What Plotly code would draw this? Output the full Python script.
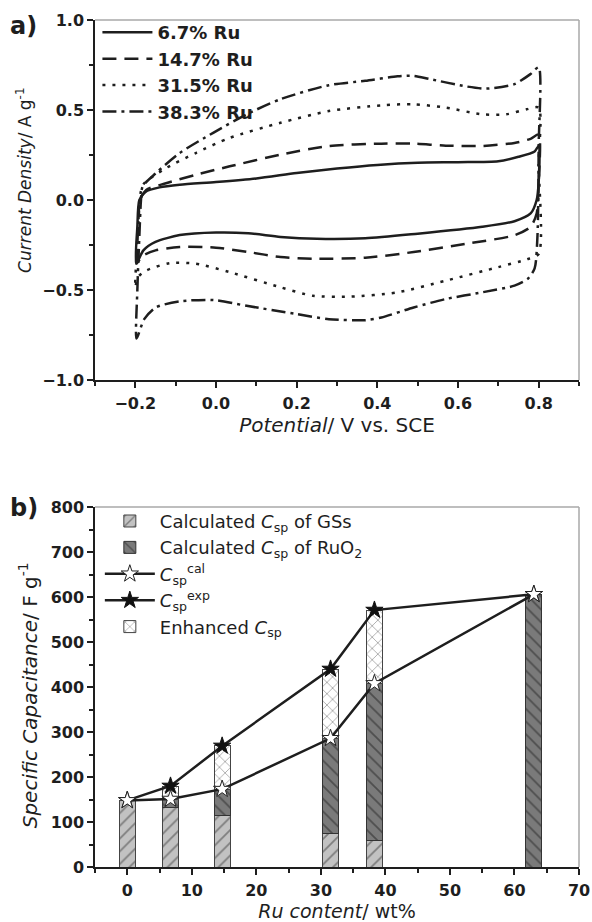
import plotly.graph_objects as go
from plotly.subplots import make_subplots

# ---------------- Panel a: cyclic voltammograms ----------------
pot_67 = [-0.198, -0.195, -0.19, -0.175, -0.14, -0.09, 0.0, 0.1, 0.2, 0.3, 0.4, 0.5, 0.6, 0.7, 0.75, 0.79, 0.8,
          0.8, 0.795, 0.78, 0.74, 0.66, 0.5, 0.37, 0.25, 0.16, 0.08, 0.0, -0.09, -0.15, -0.18, -0.198]
cur_67 = [-0.354, -0.15, 0.0, 0.045, 0.07, 0.085, 0.10, 0.12, 0.15, 0.175, 0.195, 0.207, 0.21, 0.215, 0.24, 0.27, 0.30,
          0.10, 0.0, -0.075, -0.118, -0.149, -0.187, -0.213, -0.216, -0.205, -0.185, -0.181, -0.195, -0.233, -0.28, -0.354]

pot_147 = [-0.197, -0.193, -0.188, -0.173, -0.124, -0.05, 0.034, 0.16, 0.28, 0.41, 0.49, 0.57, 0.66, 0.74, 0.78, 0.8,
           0.8, 0.795, 0.78, 0.74, 0.62, 0.49, 0.37, 0.24, 0.16, 0.08, 0.0, -0.09, -0.15, -0.18, -0.197]
cur_147 = [-0.35, -0.15, 0.0, 0.056, 0.093, 0.14, 0.187, 0.252, 0.30, 0.313, 0.313, 0.302, 0.30, 0.317, 0.34, 0.364,
           0.10, -0.075, -0.149, -0.196, -0.243, -0.289, -0.321, -0.326, -0.317, -0.289, -0.265, -0.261, -0.28, -0.308, -0.354]

pot_315 = [-0.2, -0.197, -0.192, -0.186, -0.178, -0.124, -0.05, 0.034, 0.16, 0.28, 0.41, 0.49, 0.57, 0.66, 0.72, 0.77, 0.8,
           0.8, 0.8, 0.77, 0.7, 0.57, 0.45, 0.33, 0.24, 0.16, 0.034, -0.05, -0.115, -0.173, -0.194, -0.2]
cur_315 = [-0.485, -0.3, -0.1, 0.05, 0.093, 0.177, 0.261, 0.345, 0.429, 0.494, 0.526, 0.532, 0.513, 0.476, 0.476, 0.504, 0.513,
           0.2, -0.3, -0.33, -0.373, -0.448, -0.513, -0.537, -0.532, -0.485, -0.401, -0.354, -0.351, -0.392, -0.43, -0.485]

pot_383 = [-0.197, -0.195, -0.19, -0.186, -0.182, -0.149, -0.09, -0.007, 0.076, 0.16, 0.28, 0.37, 0.45, 0.49, 0.53, 0.62, 0.67,
           0.74, 0.78, 0.8, 0.8, 0.797, 0.79, 0.773, 0.74, 0.66, 0.57, 0.49, 0.41, 0.37, 0.28, 0.2, 0.076, -0.007, -0.09,
           -0.149, -0.178, -0.197]
cur_383 = [-0.77, -0.5, -0.2, 0.0, 0.075, 0.149, 0.261, 0.373, 0.476, 0.56, 0.638, 0.662, 0.687, 0.69, 0.672, 0.631, 0.619,
           0.644, 0.70, 0.737, 0.3, -0.2, -0.38, -0.438, -0.476, -0.513, -0.55, -0.597, -0.653, -0.668, -0.662, -0.634, -0.588,
           -0.556, -0.563, -0.597, -0.662, -0.77]

cv_names = ["6.7% Ru", "14.7% Ru", "31.5% Ru", "38.3% Ru"]

# ---------------- Panel b: specific capacitance ----------------
ru_content = [0, 6.7, 14.7, 31.5, 38.3, 63]
csp_gs = [148, 132, 114, 75, 58, 0]
csp_cal = [148, 151, 173, 286, 408, 606]
csp_exp = [148, 180, 269, 440, 571, 606]

FONT = "DejaVu Sans"
INK = "#1e1e1e"

fig = make_subplots(rows=2, cols=1)

cv_sets = [(pot_67, cur_67, "solid"), (pot_147, cur_147, "14px,8px"),
           (pot_315, cur_315, "3px,7px"), (pot_383, cur_383, "14px,5px,3px,5px")]
for (p, c, d), name in zip(cv_sets, cv_names):
    fig.add_trace(go.Scatter(x=p, y=c, mode="lines", name=name, legend="legend",
                             line=dict(color=INK, width=2.5, dash=d, shape="spline", smoothing=0.7)),
                  row=1, col=1)

ruo2_part = [None if (c - g) <= 0 else c - g for c, g in zip(csp_cal, csp_gs)]
enh_part = [None if (e - c) <= 0 else e - c for e, c in zip(csp_exp, csp_cal)]
gs_part = [None if g <= 0 else g for g in csp_gs]

bar_w = 2.5
fig.add_trace(go.Bar(x=ru_content, y=gs_part, width=bar_w, legend="legend2", legendrank=1,
                     name="Calculated <i>C</i><sub>sp</sub> of GSs",
                     marker=dict(color="#c2c2c2", line=dict(color="#444", width=1),
                                 pattern=dict(shape="/", fgcolor="#3a3a3a", size=9, solidity=0.2, fillmode="overlay"))),
              row=2, col=1)
fig.add_trace(go.Bar(x=ru_content, y=ruo2_part, width=bar_w, legend="legend2", legendrank=2,
                     name="Calculated <i>C</i><sub>sp</sub> of RuO<sub>2</sub>",
                     marker=dict(color="#7a7a7a", line=dict(color="#333", width=1),
                                 pattern=dict(shape="\\", fgcolor="#222", size=9, solidity=0.2, fillmode="overlay"))),
              row=2, col=1)
fig.add_trace(go.Bar(x=ru_content, y=enh_part, width=bar_w, legend="legend2", legendrank=5,
                     name="Enhanced <i>C</i><sub>sp</sub>",
                     marker=dict(color="#ffffff", line=dict(color="#444", width=1),
                                 pattern=dict(shape="x", fgcolor="#333", size=8, solidity=0.18, fillmode="overlay"))),
              row=2, col=1)
fig.add_trace(go.Scatter(x=ru_content, y=csp_exp, mode="lines+markers", legend="legend2", legendrank=4,
                         name="<i>C</i><sub>sp</sub><sup>exp</sup>",
                         line=dict(color=INK, width=2.5),
                         marker=dict(symbol="star", size=13, color="#111", line=dict(color="#111", width=1))),
              row=2, col=1)
fig.add_trace(go.Scatter(x=ru_content, y=csp_cal, mode="lines+markers", legend="legend2", legendrank=3,
                         name="<i>C</i><sub>sp</sub><sup>cal</sup>",
                         line=dict(color=INK, width=2.5),
                         marker=dict(symbol="star", size=13, color="#ffffff", line=dict(color="#222", width=1))),
              row=2, col=1)

axis_common = dict(showline=True, linecolor=INK, linewidth=1.5, ticks="outside", ticklen=6, tickwidth=1.5,
                   tickcolor=INK, showgrid=False, zeroline=False, automargin=False,
                   tickfont=dict(family=FONT, size=16, color=INK, weight="bold"))

fig.update_xaxes(**axis_common)
fig.update_yaxes(**axis_common)

fig.update_layout(
    xaxis=dict(domain=[0, 1], range=[-0.3, 0.9], dtick=0.2, tick0=-0.2, tickformat=".1f", ticklabelstandoff=2,
               minor=dict(ticks="outside", ticklen=4, dtick=0.1, tickcolor=INK),
               title=dict(text="<i>Potential</i>/ V vs. SCE", font=dict(family=FONT, size=20, color=INK),
                          standoff=6)),
    yaxis=dict(domain=[0.575, 1], range=[-1.0, 1.0], dtick=0.5, tickformat=".1f",
               minor=dict(ticks="outside", ticklen=4, dtick=0.25, tickcolor=INK)),
    xaxis2=dict(domain=[0, 1], range=[-5, 70], dtick=10, ticklabelstandoff=2,
                minor=dict(ticks="outside", ticklen=4, dtick=5, tickcolor=INK),
                title=dict(text="<i>Ru content</i>/ wt%", font=dict(family=FONT, size=19, color=INK),
                           standoff=6)),
    yaxis2=dict(domain=[0, 0.425], range=[0, 800], dtick=100,
                minor=dict(ticks="outside", ticklen=4, dtick=50, tickcolor=INK)),
    barmode="stack",
    width=592, height=922,
    margin=dict(l=95, r=13, t=20, b=55, autoexpand=False),
    paper_bgcolor="white", plot_bgcolor="white",
    legend=dict(x=0.005, y=1.007, xanchor="left", yanchor="top", bgcolor="rgba(0,0,0,0)",
                font=dict(family=FONT, size=18, color=INK, weight="bold"), itemwidth=50,
                tracegroupgap=0, traceorder="normal"),
    legend2=dict(x=0.01, y=0.430, xanchor="left", yanchor="top", bgcolor="rgba(0,0,0,0)",
                 font=dict(family=FONT, size=18, color=INK), itemwidth=50,
                 tracegroupgap=0, traceorder="normal"),
    showlegend=True,
)

frame = []
for xr, yr in [("x domain", "y domain"), ("x2 domain", "y2 domain")]:
    frame.append(dict(type="line", xref=xr, yref=yr, x0=0, x1=1, y0=1, y1=1, line=dict(color="#a8a8a8", width=1.5)))
    frame.append(dict(type="line", xref=xr, yref=yr, x0=1, x1=1, y0=0, y1=1, line=dict(color="#a8a8a8", width=1.5)))
fig.update_layout(shapes=frame)

# y-axis titles (placed as rotated annotations to match the reference positions)
fig.add_annotation(text="<i>Current Density</i>/ A g<sup>-1</sup>", xref="paper", yref="paper",
                   x=-0.147, y=0.811, xanchor="center", yanchor="middle", textangle=-90, showarrow=False,
                   font=dict(family=FONT, size=17, color=INK))
fig.add_annotation(text="<i>Specific Capacitance</i>/ F g<sup>-1</sup>", xref="paper", yref="paper",
                   x=-0.138, y=0.203, xanchor="center", yanchor="middle", textangle=-90, showarrow=False,
                   font=dict(family=FONT, size=20, color=INK))

fig.add_annotation(text="<b>a)</b>", xref="paper", yref="paper", x=-0.18, y=0.993, xanchor="left", yanchor="middle",
                   showarrow=False, font=dict(family=FONT, size=24, color=INK))
fig.add_annotation(text="<b>b)</b>", xref="paper", yref="paper", x=-0.18, y=0.424, xanchor="left", yanchor="middle",
                   showarrow=False, font=dict(family=FONT, size=24, color=INK))

fig.write_html("out.html")
